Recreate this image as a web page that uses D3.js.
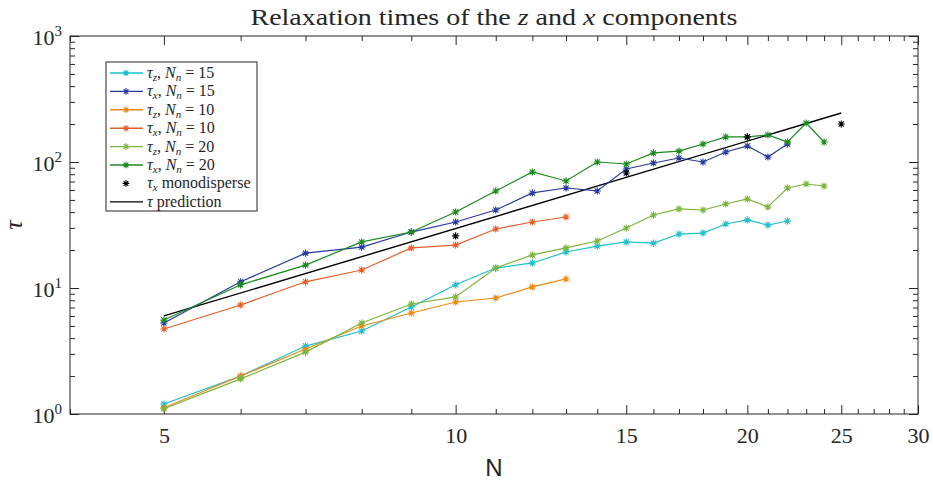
<!DOCTYPE html>
<html>
<head>
<meta charset="utf-8">
<script src="https://cdn.jsdelivr.net/npm/d3@7"></script>
<style>
  body { margin: 0; background: #fff; }
  text { font-family: "Liberation Serif", "DejaVu Serif", serif; fill: #262626; }
</style>
</head>
<body>
<div id="chart"></div>
<script>
// relaxation times, log-log

const WIDTH = 933;
const HEIGHT = 482;
const PLOT = { LEFT: 70, RIGHT: 918, TOP: 36, BOTTOM: 414 };
const AXIS_COLOR = '#262626';

// data
const N15 = [5, 6, 7, 8, 9, 10, 11, 12, 13, 14, 15, 16, 17, 18, 19, 20, 21, 22];
const tauZ15 = [1.2, 2.0, 3.46, 4.56, 7.07, 10.6, 14.4, 15.8, 19.3, 21.5, 23.2, 22.7, 26.8, 27.3, 32.2, 34.7, 31.6, 34];
const tauX15 = [5.28, 11.2, 18.9, 21.1, 27.8, 33.4, 41.6, 56.8, 62.2, 58.9, 88, 98.2, 107.6, 100, 120, 134, 109.6, 139];

const N10 = [5, 6, 7, 8, 9, 10, 11, 12, 13];
const tauZ10 = [1.12, 2.0, 3.28, 4.99, 6.33, 7.74, 8.33, 10.2, 11.8];
const tauX10 = [4.73, 7.33, 11.2, 13.9, 20.8, 21.9, 29.4, 33.4, 36.6];

const N20 = [5, 6, 7, 8, 9, 10, 11, 12, 13, 14, 15, 16, 17, 18, 19, 20, 21, 22, 23, 24];
const tauZ20 = [1.1, 1.9, 3.1, 5.28, 7.47, 8.49, 14.4, 18.3, 20.8, 23.6, 29.9, 38, 42.4, 41.6, 46.4, 50.9, 44, 62.2, 66.9, 64.5];
const tauX20 = [5.57, 10.6, 15.2, 23.2, 27.8, 40.1, 58.9, 83.3, 70.7, 100, 96.4, 118, 122, 139, 158, 158, 164, 144, 204, 144];

const Nmono = [10, 15, 20, 25];
const tauMono = [25.9, 81.8, 158, 200];

const Npred = [5, 25];
const tauPred = [6.0, 245];

const xMajor = [5, 10, 15, 20, 25, 30];
const xMinor = [4, 6, 7, 8, 9, 11, 12, 13, 14, 16, 17, 18, 19, 21, 22, 23, 24, 26, 27, 28, 29];
const yMajor = [1, 10, 100, 1000];
const yExp = ['0', '1', '2', '3'];

const series = [
  { sub: 'z', nn: '15', N: N15, tau: tauZ15, color: '#1fbfc9' },
  { sub: 'x', nn: '15', N: N15, tau: tauX15, color: '#283a9c' },
  { sub: 'z', nn: '10', N: N10, tau: tauZ10, color: '#ec8a18' },
  { sub: 'x', nn: '10', N: N10, tau: tauX10, color: '#e3602b' },
  { sub: 'z', nn: '20', N: N20, tau: tauZ20, color: '#7db43c' },
  { sub: 'x', nn: '20', N: N20, tau: tauX20, color: '#1b8a1e' }
];

let yMinor = [];
[1, 10, 100].forEach(d => { for (let k = 2; k <= 9; k++) yMinor.push(d * k); });

const svg = d3.select('#chart').append('svg')
  .attr('width', WIDTH)
  .attr('height', HEIGHT);

const x = d3.scaleLog().domain([4, 30]).range([PLOT.LEFT, PLOT.RIGHT]);
const y = d3.scaleLog().domain([1, 1000]).range([PLOT.BOTTOM, PLOT.TOP]);

function star(s) {
  const a = s * 0.72;
  return `M${-s},0L${s},0M0,${-s}L0,${s}M${-a},${-a}L${a},${a}M${-a},${a}L${a},${-a}`;
}

// axes (ticks inward, mirrored on top/right)
function styleAxis(g) {
  g.select('.domain').remove();
  g.selectAll('line').attr('stroke', AXIS_COLOR).attr('stroke-width', 1);
}

svg.append('g').attr('transform', `translate(0,${PLOT.BOTTOM})`)
  .call(d3.axisBottom(x).tickValues(xMajor).tickSize(-9).tickPadding(13).tickFormat(d3.format('d')))
  .call(styleAxis)
  .selectAll('text')
    .style('font-family', '"Liberation Serif", serif')
    .style('font-size', '22px')
    .attr('fill', AXIS_COLOR);

svg.append('g').attr('transform', `translate(0,${PLOT.BOTTOM})`)
  .call(d3.axisBottom(x).tickValues(xMinor).tickSize(-5).tickFormat(''))
  .call(styleAxis);

svg.append('g').attr('transform', `translate(0,${PLOT.TOP})`)
  .call(d3.axisTop(x).tickValues(xMajor).tickSize(-9).tickFormat(''))
  .call(styleAxis);

svg.append('g').attr('transform', `translate(0,${PLOT.TOP})`)
  .call(d3.axisTop(x).tickValues(xMinor).tickSize(-5).tickFormat(''))
  .call(styleAxis);

const left = svg.append('g').attr('transform', `translate(${PLOT.LEFT},0)`)
  .call(d3.axisLeft(y).tickValues(yMajor).tickSize(-9).tickFormat(''))
  .call(styleAxis);

svg.append('g').attr('transform', `translate(${PLOT.LEFT},0)`)
  .call(d3.axisLeft(y).tickValues(yMinor).tickSize(-5).tickFormat(''))
  .call(styleAxis);

svg.append('g').attr('transform', `translate(${PLOT.RIGHT},0)`)
  .call(d3.axisRight(y).tickValues(yMajor).tickSize(-9).tickFormat(''))
  .call(styleAxis);

svg.append('g').attr('transform', `translate(${PLOT.RIGHT},0)`)
  .call(d3.axisRight(y).tickValues(yMinor).tickSize(-5).tickFormat(''))
  .call(styleAxis);

// 10^k labels
left.selectAll('.tick').each(function(d, i) {
  const t = d3.select(this).append('text')
    .attr('x', -8)
    .attr('y', 8)
    .attr('text-anchor', 'end')
    .attr('fill', AXIS_COLOR)
    .style('font-size', '22px');
  t.append('tspan').text('10');
  t.append('tspan').attr('dy', -9).style('font-size', '15px').text(yExp[i]);
});

// box
svg.append('rect')
  .attr('x', PLOT.LEFT)
  .attr('y', PLOT.TOP)
  .attr('width', PLOT.RIGHT - PLOT.LEFT)
  .attr('height', PLOT.BOTTOM - PLOT.TOP)
  .attr('fill', 'none')
  .attr('stroke', AXIS_COLOR)
  .attr('stroke-width', 1);

const line = d3.line()
  .x(d => x(d[0]))
  .y(d => y(d[1]));

// prediction line
svg.append('path')
  .datum(d3.zip(Npred, tauPred))
  .attr('d', line)
  .attr('fill', 'none')
  .attr('stroke', '#000')
  .attr('stroke-width', 1.4);

// series
series.forEach(s => {
  const pts = d3.zip(s.N, s.tau);
  svg.append('path')
    .datum(pts)
    .attr('d', line)
    .attr('fill', 'none')
    .attr('stroke', s.color)
    .attr('stroke-width', 1.2);
  svg.append('g').selectAll('path')
    .data(pts)
    .enter()
    .append('path')
      .attr('transform', d => `translate(${x(d[0])},${y(d[1])})`)
      .attr('d', star(3.6))
      .attr('stroke', s.color)
      .attr('stroke-width', 1.1)
      .attr('fill', 'none');
});

// monodisperse points
svg.append('g').selectAll('path')
  .data(d3.zip(Nmono, tauMono))
  .enter()
  .append('path')
    .attr('transform', d => `translate(${x(d[0])},${y(d[1])})`)
    .attr('d', star(3.6))
    .attr('stroke', '#000')
    .attr('stroke-width', 1.1)
    .attr('fill', 'none');

// legend
const LEG = { X: 106, Y: 62, W: 151, H: 149, ROW: 18.4 };
const legend = svg.append('g');
legend.append('rect')
  .attr('x', LEG.X).attr('y', LEG.Y)
  .attr('width', LEG.W).attr('height', LEG.H)
  .attr('fill', '#fff')
  .attr('stroke', AXIS_COLOR)
  .attr('stroke-width', 1);

series.forEach((s, i) => {
  const cy = LEG.Y + 11 + i * LEG.ROW;
  legend.append('line')
    .attr('x1', LEG.X + 4).attr('x2', LEG.X + 37)
    .attr('y1', cy).attr('y2', cy)
    .attr('stroke', s.color).attr('stroke-width', 1.4);
  legend.append('path')
    .attr('transform', `translate(${LEG.X + 20},${cy})`)
    .attr('d', star(3.3))
    .attr('stroke', s.color).attr('stroke-width', 1.1).attr('fill', 'none');
  const t = legend.append('text')
    .attr('x', LEG.X + 41).attr('y', cy + 5)
    .style('font-size', '16px');
  t.append('tspan').style('font-style', 'italic').text('τ');
  t.append('tspan').attr('dy', 3).style('font-size', '11px').style('font-style', 'italic').text(s.sub);
  t.append('tspan').attr('dy', -3).text(', ');
  t.append('tspan').style('font-style', 'italic').text('N');
  t.append('tspan').attr('dy', 3).style('font-size', '11px').style('font-style', 'italic').text('n');
  t.append('tspan').attr('dy', -3).text(' = ' + s.nn);
});

{
  const cy = LEG.Y + 11 + 6 * LEG.ROW;
  legend.append('path')
    .attr('transform', `translate(${LEG.X + 20},${cy})`)
    .attr('d', star(3.3))
    .attr('stroke', '#000').attr('stroke-width', 1.1).attr('fill', 'none');
  const t = legend.append('text')
    .attr('x', LEG.X + 41).attr('y', cy + 5)
    .style('font-size', '16px');
  t.append('tspan').style('font-style', 'italic').text('τ');
  t.append('tspan').attr('dy', 3).style('font-size', '11px').style('font-style', 'italic').text('x');
  t.append('tspan').attr('dy', -3).text(' monodisperse');
}
{
  const cy = LEG.Y + 11 + 7 * LEG.ROW;
  legend.append('line')
    .attr('x1', LEG.X + 4).attr('x2', LEG.X + 37)
    .attr('y1', cy).attr('y2', cy)
    .attr('stroke', '#000').attr('stroke-width', 1.3);
  const t = legend.append('text')
    .attr('x', LEG.X + 41).attr('y', cy + 5)
    .style('font-size', '16px');
  t.append('tspan').style('font-style', 'italic').text('τ');
  t.append('tspan').text(' prediction');
}

// title
const title = svg.append('text')
  .attr('x', (PLOT.LEFT + PLOT.RIGHT) / 2)
  .attr('y', 25)
  .attr('text-anchor', 'middle')
  .attr('fill', '#000')
  .style('font-size', '23px');
title.append('tspan').text('Relaxation times of the ');
title.append('tspan').style('font-style', 'italic').text('z');
title.append('tspan').text(' and ');
title.append('tspan').style('font-style', 'italic').text('x');
title.append('tspan').text(' components');
title.attr('textLength', 487).attr('lengthAdjust', 'spacingAndGlyphs');

// axis labels
svg.append('text')
  .attr('x', (PLOT.LEFT + PLOT.RIGHT) / 2)
  .attr('y', 476)
  .attr('text-anchor', 'middle')
  .style('font-family', '"Liberation Sans", Arial, sans-serif')
  .style('font-size', '24px')
  .attr('fill', AXIS_COLOR)
  .text('N');

svg.append('text')
  .attr('transform', `translate(22,${(PLOT.TOP + PLOT.BOTTOM) / 2}) rotate(-90)`)
  .attr('text-anchor', 'middle')
  .style('font-size', '26px')
  .style('font-style', 'italic')
  .attr('fill', AXIS_COLOR)
  .text('τ');
</script>
</body>
</html>
